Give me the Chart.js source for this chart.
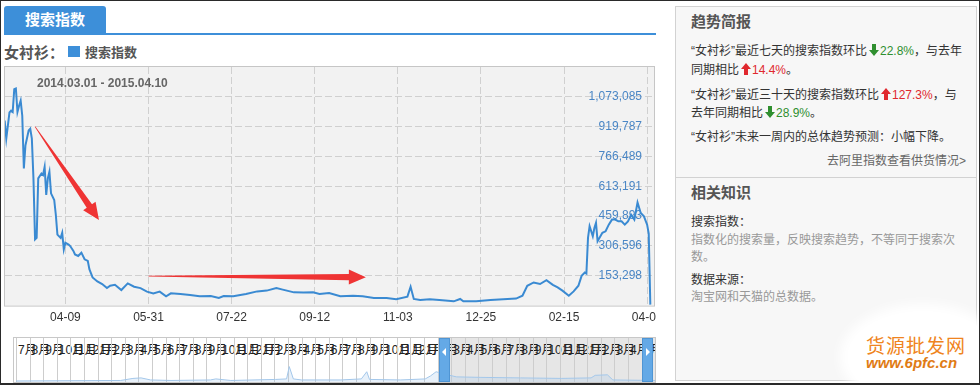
<!DOCTYPE html>
<html>
<head>
<meta charset="utf-8">
<script src="https://cdn.jsdelivr.net/npm/chart.js@4.4.1/dist/chart.umd.min.js"></script>
<style>
  body { margin: 0; background: #fff; font-family: "Liberation Sans", Arial, "Noto Sans CJK SC", sans-serif; }
  #page { position: relative; width: 980px; height: 385px; overflow: hidden; background: #fff; }
  #page div, #page span { white-space: nowrap; }
  .abs { position: absolute; }
  #frame { position: absolute; left: 0; top: 0; width: 980px; height: 385px; box-sizing: border-box;
    border: 1px solid #2a2a2a; border-bottom-width: 2px; z-index: 20; pointer-events: none; }
  #tab { left: 4px; top: 6px; width: 102px; height: 28px; background: #3d8fd9; border-radius: 3px 3px 0 0;
    color: #fff; font-weight: bold; font-size: 15px; line-height: 28px; text-align: center; }
  #tabLine { left: 4px; top: 33px; width: 652px; height: 2px; background: #3d8fd9; }
  #kw { left: 4px; top: 44px; font-size: 15px; font-weight: bold; color: #555; line-height: 18px; }
  #legSwatch { left: 68px; top: 46px; width: 12px; height: 11px; background: #3d8fd9; }
  #legText { left: 85px; top: 44px; font-size: 13px; font-weight: bold; color: #555; line-height: 18px; }
  #mainWrap { left: 0; top: 0; width: 656px; height: 336px; overflow: hidden; }
  #range { left: 37px; top: 76px; font-size: 12px; font-weight: bold; color: #666; line-height: 14px; }
  #nav { left: 13px; top: 337px; width: 641px; height: 44px; border: 1px solid #c8c8c8; background: #fff; overflow: hidden; }
  #navSel { left: 426px; top: 0; width: 215px; height: 44px; background: #e6e6e6; }
  .cell { position: absolute; top: 0; width: 1px; height: 44px; background: #cdcdcd; }
  .mon { position: absolute; top: 5px; font-size: 12px; line-height: 14px; color: #222; }
  #navCanvas { position: absolute; left: 2px; top: 0; }
  .handle { position: absolute; top: 0; width: 11px; height: 44px; background: #64a9e6; border: 1px solid #4f95d4; box-sizing: border-box; }
  #side { left: 675px; top: 6px; width: 302px; height: 375px; box-sizing: border-box; background: #f7f7f7; border: 1px solid #d2d2d2; }
  #sideLine { left: 675px; top: 177px; width: 302px; height: 1px; background: #d2d2d2; }
  .h { left: 691px; font-size: 15px; font-weight: bold; color: #555; line-height: 18px; }
  .t { left: 691px; font-size: 12px; color: #333; line-height: 19px; }
  .g { color: #2f8f2f; }
  .r { color: #e0282e; }
  .muted { color: #999; }
  svg.ar { vertical-align: -1px; margin: 0 1px 0 2px; }
  #wmBlob { left: 848px; top: 312px; width: 150px; height: 90px; border-radius: 50%; background: #fff;
    box-shadow: 0 0 12px 8px #fff; z-index: 10; }
  #wm1 { left: 866px; top: 331px; font-size: 19px; color: #ef8420; z-index: 11; letter-spacing: 1px; }
  #wm2 { left: 866px; top: 354px; font-size: 15px; font-weight: bold; color: #e07b14; z-index: 11; font-style: italic; }
</style>
</head>
<body>
<div id="page">
  <div id="tab" class="abs">搜索指数</div>
  <div id="tabLine" class="abs"></div>
  <div id="kw" class="abs">女衬衫：</div>
  <div id="legSwatch" class="abs"></div>
  <div id="legText" class="abs">搜索指数</div>

  <div id="mainWrap" class="abs"><canvas id="mainCanvas" width="672" height="336"></canvas></div>
  <div id="range" class="abs"></div>

  <div id="nav" class="abs">
    <div id="navSel" class="abs"></div>
    <div id="navCells"></div>
    <canvas id="navCanvas" width="639" height="44"></canvas>
    <div class="handle" style="left:425px"><svg width="9" height="44" style="position:absolute;left:0;top:0"><polygon points="6,9 2,13 6,17" fill="#fff"/></svg></div>
    <div class="handle" style="left:628px"><svg width="9" height="44" style="position:absolute;left:0;top:0"><polygon points="3,9 7,13 3,17" fill="#fff"/></svg></div>
  </div>

  <div id="side" class="abs"></div>
  <div id="sideLine" class="abs"></div>
  <div class="abs h" style="top:13px">趋势简报</div>
  <div class="abs t" style="top:42px">“女衬衫”最近七天的搜索指数环比<svg class="ar" width="10" height="12"><polygon points="3,0 7,0 7,6 10,6 5,12 0,6 3,6" fill="#2f8f2f"/></svg><span class="g">22.8%</span>，与去年<br>同期相比<svg class="ar" width="10" height="12"><polygon points="5,0 10,6 7,6 7,12 3,12 3,6 0,6" fill="#e0282e"/></svg><span class="r">14.4%</span>。</div>
  <div class="abs t" style="top:86px;line-height:18px">“女衬衫”最近三十天的搜索指数环比<svg class="ar" width="10" height="12"><polygon points="5,0 10,6 7,6 7,12 3,12 3,6 0,6" fill="#e0282e"/></svg><span class="r">127.3%</span>，与<br>去年同期相比<svg class="ar" width="10" height="12"><polygon points="3,0 7,0 7,6 10,6 5,12 0,6 3,6" fill="#2f8f2f"/></svg><span class="g">28.9%</span>。</div>
  <div class="abs t" style="top:128px">“女衬衫”未来一周内的总体趋势预测：小幅下降。</div>
  <div class="abs t" style="top:152px;left:auto;right:14px;color:#666">去阿里指数查看供货情况&gt;</div>
  <div class="abs h" style="top:184px">相关知识</div>
  <div class="abs t" style="top:213px">搜索指数：</div>
  <div class="abs t muted" style="top:232px;line-height:17px">指数化的搜索量，反映搜索趋势，不等同于搜索次<br>数。</div>
  <div class="abs t" style="top:271px">数据来源：</div>
  <div class="abs t muted" style="top:288px">淘宝网和天猫的总数据。</div>

  <div id="wmBlob" class="abs"></div>
  <div id="wm1" class="abs">货源批发网</div>
  <div id="wm2" class="abs">www.6pfc.cn</div>
  <div id="frame"></div>
</div>

<script>
// date range shown in the chart
const rangeStart = "2014.03.01";
const rangeEnd = "2015.04.10";

// days since 2014-03-01 and search index
const dayIndex = [
  1, 2, 4, 5, 6, 7, 8, 9, 10, 11, 12, 13, 14, 16, 17, 18, 19, 20, 21, 22,
  24, 25, 26, 27, 28, 29, 30, 32, 33, 34, 36, 37, 38, 39, 41, 42, 44, 45, 47, 49,
  51, 53, 54, 56, 59, 62, 65, 67, 70, 74, 78, 82, 86, 90, 94, 98, 102, 105, 111, 117,
  123, 130, 135, 138, 144, 152, 159, 165, 171, 175, 182, 188, 194, 198, 204, 211, 219, 225, 232, 240,
  246, 253, 255, 257, 261, 267, 273, 282, 286, 288, 296, 305, 313, 321, 325, 328, 332, 336, 340, 344,
  347, 350, 354, 357, 360, 362, 364, 365, 366, 367, 369, 370, 371, 372, 375, 377, 379, 381, 383, 385,
  387, 389, 391, 393, 395, 397, 399, 401, 403, 404, 405
];
const searchIndex = [
  951000, 858000, 993000, 1002000, 995000, 1112000, 1116000, 995000, 1027000, 1053000,
  976000, 705000, 824000, 900000, 909000, 858000, 654000, 340000, 348000, 654000,
  679000, 671000, 713000, 569000, 654000, 688000, 577000, 543000, 467000, 365000,
  348000, 374000, 289000, 323000, 314000, 306000, 281000, 263000, 255000, 272000,
  238000, 230000, 187000, 145000, 124000, 111000, 90000, 102000, 107000, 80000,
  114000, 97000, 90000, 72000, 63000, 72000, 48000, 63000, 60000, 55000,
  48000, 49000, 39000, 49000, 48000, 60000, 73000, 77000, 90000, 82000,
  68000, 67000, 68000, 60000, 65000, 48000, 51000, 48000, 39000, 39000,
  33000, 46000, 97000, 34000, 29000, 33000, 29000, 22000, 34000, 22000,
  22000, 29000, 33000, 36000, 51000, 102000, 119000, 111000, 131000, 107000,
  94000, 77000, 51000, 73000, 102000, 153000, 170000, 165000, 348000, 408000,
  357000, 399000, 425000, 331000, 374000, 382000, 416000, 442000, 442000, 433000,
  433000, 416000, 433000, 467000, 442000, 530000, 476000, 459000, 416000, 370000,
  5000
];

// axis ticks
const xTickDays = [39, 91, 143, 195, 247, 299, 351, 403];
const xTickLabels = ["04-09", "05-31", "07-22", "09-12", "11-03", "12-25", "02-15", "04-08"];
const yTickValues = [153298, 306596, 459893, 613191, 766489, 919787, 1073085];
const yTickLabels = ["153,298", "306,596", "459,893", "613,191", "766,489", "919,787", "1,073,085"];
const yMax = 1226383;

// red arrows drawn on the screenshot, in data units [day, value]
const arrowNotes = [
  { from: [20, 920000], to: [60, 440000] },
  { from: [91, 152000], to: [227, 146000] }
];

// navigator: month label per cell and the faint overview line (cell position, value)
const navMonths = [7, 8, 9, 10, 11, 12, 1, 2, 3, 4, 5, 6, 7, 8, 9, 10, 11, 12, 1, 2, 3, 4, 5, 6,
  7, 8, 9, 10, 11, 12, 1, 2, 3, 4, 5, 6, 7, 8, 9, 10, 11, 12, 1, 2, 3, 4, 5];
const navPos = [0, 7.7, 8.6, 9.2, 9.9, 11.4, 14.3, 14.7, 15.8, 19.1, 19.9, 20.1, 20.4, 21, 23.9, 25.4,
  25.8, 26, 28.3, 30.1, 30.5, 30.9, 31.4, 32.4, 34.2, 37.1, 40.1, 42.3, 42.6, 43.5, 43.9, 47];
const navValues = [70000, 105000, 245000, 280000, 140000, 105000, 140000, 210000, 105000, 175000, 210000,
  1050000, 210000, 140000, 140000, 210000, 700000, 175000, 140000, 210000, 420000, 700000, 560000,
  350000, 315000, 280000, 245000, 280000, 455000, 490000, 140000, 105000];
const navMax = 3000000;

Chart.defaults.font.family = '"Liberation Sans", Arial, "Noto Sans CJK SC", sans-serif';

document.getElementById("range").textContent = rangeStart + " - " + rangeEnd;

const plotFrame = {
  id: "plotFrame",
  beforeDraw(chart) {
    const { ctx, chartArea: a } = chart;
    ctx.save();
    ctx.fillStyle = "#f2f2f2";
    ctx.fillRect(a.left, a.top, a.width, a.height);
    ctx.restore();
  },
  beforeDatasetsDraw(chart) {
    const { ctx, chartArea: a } = chart;
    ctx.save();
    ctx.strokeStyle = "#c6c6c6";
    ctx.lineWidth = 1;
    ctx.strokeRect(a.left - 0.5, a.top - 0.5, a.width + 1, a.height + 1);
    ctx.restore();
  }
};

function drawArrow(ctx, x0, y0, x1, y1, tailW, neckW, headW, headLen) {
  const len = Math.hypot(x1 - x0, y1 - y0);
  const ux = (x1 - x0) / len, uy = (y1 - y0) / len;
  const nx = -uy, ny = ux;
  const bx = x1 - ux * headLen, by = y1 - uy * headLen;
  ctx.beginPath();
  ctx.moveTo(x0 + nx * tailW, y0 + ny * tailW);
  ctx.lineTo(bx + nx * neckW, by + ny * neckW);
  ctx.lineTo(bx + nx * headW, by + ny * headW);
  ctx.lineTo(x1, y1);
  ctx.lineTo(bx - nx * headW, by - ny * headW);
  ctx.lineTo(bx - nx * neckW, by - ny * neckW);
  ctx.lineTo(x0 - nx * tailW, y0 - ny * tailW);
  ctx.closePath();
  ctx.fill();
}

const arrowPlugin = {
  id: "arrowPlugin",
  afterDatasetsDraw(chart) {
    const { ctx, scales } = chart;
    ctx.save();
    ctx.fillStyle = "#ef3434";
    for (const note of arrowNotes) {
      drawArrow(ctx,
        scales.x.getPixelForValue(note.from[0]), scales.y.getPixelForValue(note.from[1]),
        scales.x.getPixelForValue(note.to[0]), scales.y.getPixelForValue(note.to[1]),
        0.4, 3.2, 7.5, 17);
    }
    ctx.restore();
  }
};

const mainPoints = dayIndex.map((d, i) => ({ x: d, y: searchIndex[i] }));

new Chart(document.getElementById("mainCanvas"), {
  type: "line",
  data: {
    datasets: [{
      data: mainPoints,
      borderColor: "#3a8ad2",
      borderWidth: 2,
      pointRadius: 0,
      tension: 0,
      fill: false
    }]
  },
  options: {
    responsive: false,
    animation: false,
    events: [],
    layout: { padding: { left: 5, top: 67, right: 18, bottom: 6 } },
    plugins: { legend: { display: false }, tooltip: { enabled: false } },
    scales: {
      x: {
        type: "linear",
        min: 1.2,
        max: 407.3,
        afterBuildTicks: (axis) => { axis.ticks = xTickDays.map((v) => ({ value: v })); },
        grid: { color: "#d0d0d0", drawTicks: false },
        border: { display: false, dash: [7, 3] },
        ticks: {
          autoSkip: false,
          maxRotation: 0,
          padding: 5,
          color: "#333",
          font: { size: 12 },
          callback: (v, i) => xTickLabels[i]
        }
      },
      y: {
        position: "right",
        min: 0,
        max: yMax,
        afterBuildTicks: (axis) => { axis.ticks = yTickValues.map((v) => ({ value: v })); },
        // labels sit inside the plot, so the axis takes no room
        afterFit: (axis) => { axis.width = 0; },
        grid: { color: "#d0d0d0", drawTicks: false },
        border: { display: false, dash: [7, 3] },
        ticks: {
          mirror: true,
          padding: -12,
          color: "#4a86c5",
          font: { size: 12 },
          callback: (v, i) => yTickLabels[i]
        }
      }
    }
  },
  plugins: [plotFrame, arrowPlugin]
});

// navigator cells and month labels
const cellBox = document.getElementById("navCells");
navMonths.forEach((m, i) => {
  const x = 2 + i * 13.6;
  const line = document.createElement("div");
  line.className = "cell";
  line.style.left = x.toFixed(1) + "px";
  cellBox.appendChild(line);
  const lab = document.createElement("span");
  lab.className = "mon";
  lab.style.left = (x + 2).toFixed(1) + "px";
  lab.textContent = m + "月";
  cellBox.appendChild(lab);
});

new Chart(document.getElementById("navCanvas"), {
  type: "line",
  data: {
    datasets: [{
      data: navPos.map((p, i) => ({ x: p, y: navValues[i] })),
      borderColor: "#a3c7ea",
      borderWidth: 1,
      backgroundColor: "rgba(163,199,234,0.25)",
      fill: "origin",
      pointRadius: 0,
      tension: 0
    }]
  },
  options: {
    responsive: false,
    animation: false,
    events: [],
    layout: { padding: 0 },
    plugins: { legend: { display: false }, tooltip: { enabled: false } },
    scales: {
      x: { type: "linear", display: false, min: 0, max: 47 },
      y: { display: false, min: 0, max: navMax }
    }
  }
});
</script>
</body>
</html>
